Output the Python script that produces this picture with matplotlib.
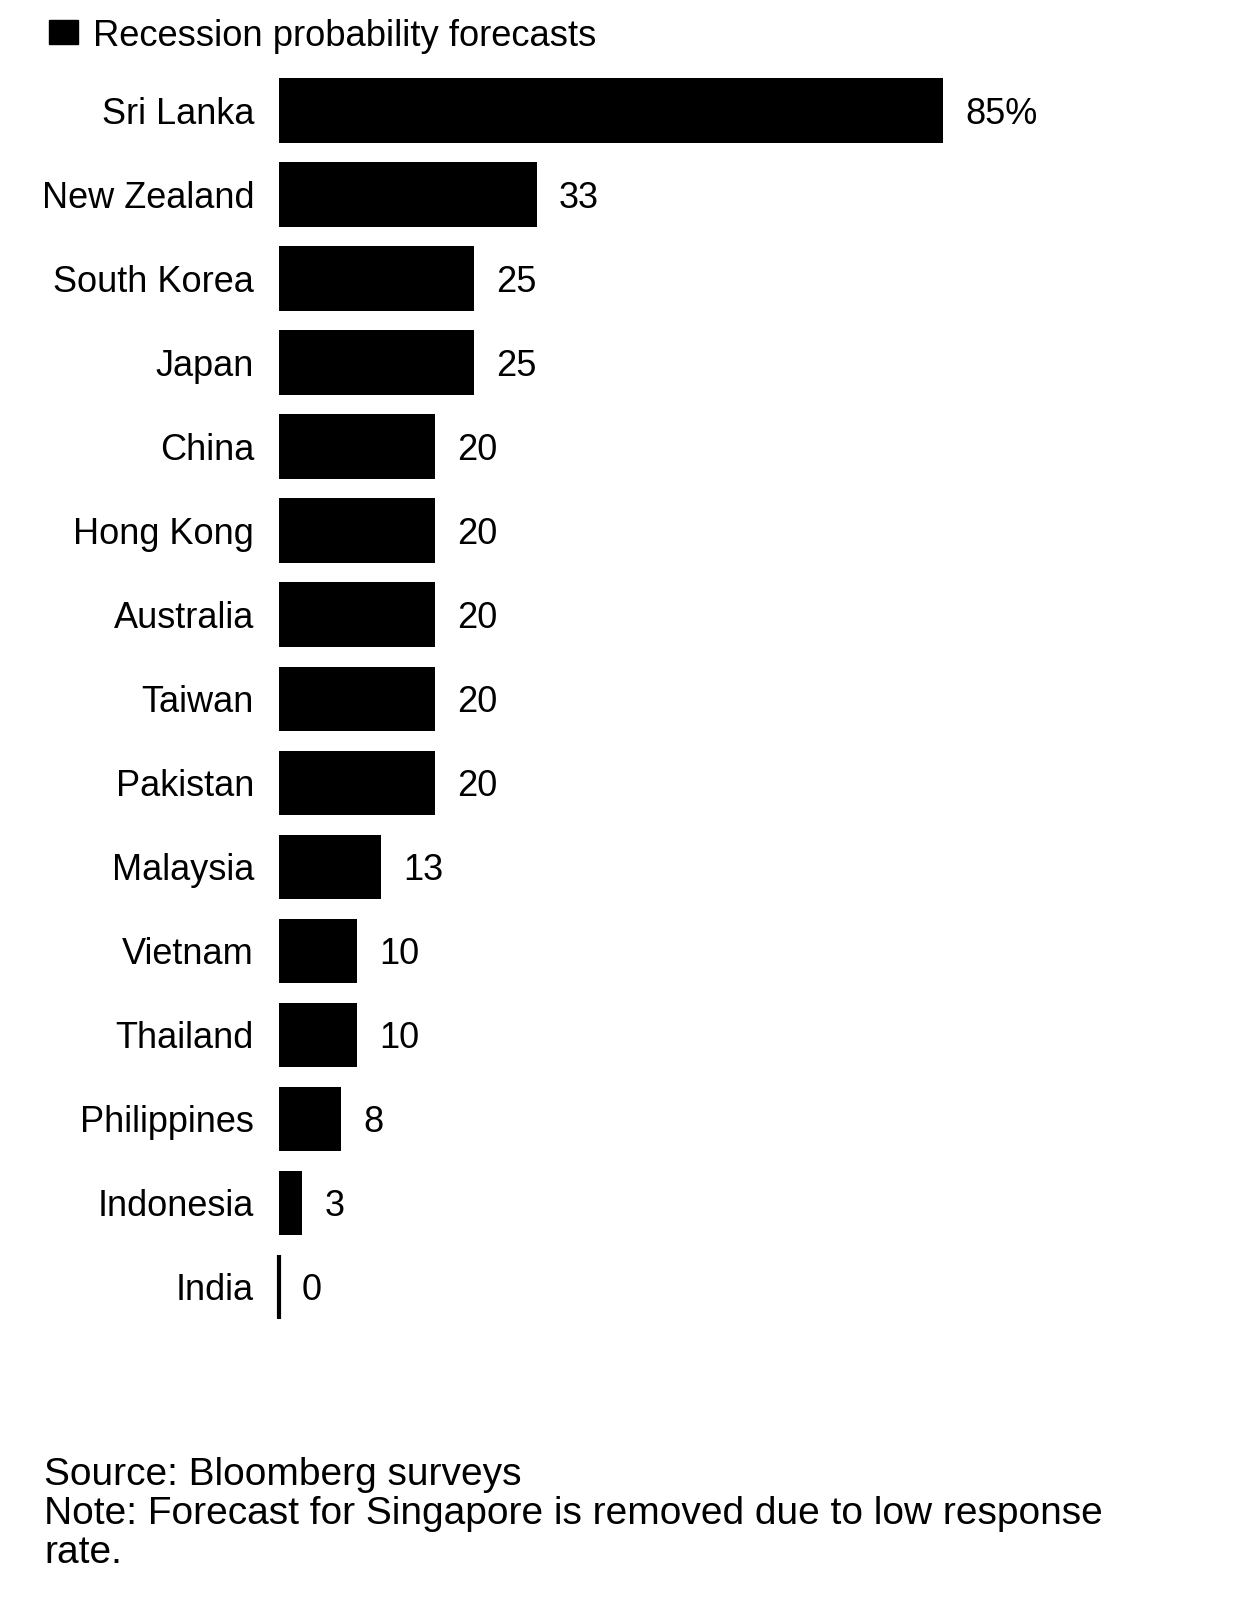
import matplotlib
matplotlib.use("Agg")
import matplotlib.pyplot as plt
from matplotlib.patches import Rectangle

plt.rcParams['font.family'] = ['Liberation Sans', 'DejaVu Sans']

countries = ["Sri Lanka", "New Zealand", "South Korea", "Japan", "China", "Hong Kong",
             "Australia", "Taiwan", "Pakistan", "Malaysia", "Vietnam", "Thailand",
             "Philippines", "Indonesia", "India"]
values = [85, 33, 25, 25, 20, 20, 20, 20, 20, 13, 10, 10, 8, 3, 0]
value_labels = ["85%", "33", "25", "25", "20", "20", "20", "20", "20", "13", "10", "10", "8", "3", "0"]
legend_label = "Recession probability forecasts"
source_lines = ["Source: Bloomberg surveys",
                "Note: Forecast for Singapore is removed due to low response",
                "rate."]

W, H = 1236, 1600
fig = plt.figure(figsize=(W / 100, H / 100), dpi=100)
fig.patch.set_facecolor("white")

left = 279 / W
width = (943 - 279) / 85 * 100 / W
top = 1 - 68.7 / H
bottom = 1 - 1329 / H
ax = fig.add_axes([left, bottom, width, top - bottom])

ypos = list(range(len(countries)))
bars = ax.barh(ypos, values, height=0.77, color="black", edgecolor="black", linewidth=0)
# zero-value bar drawn as thin line
for b, v in zip(bars, values):
    if v == 0:
        b.set_linewidth(3.0)
        b.set_clip_on(False)

ax.set_xlim(0, 100)
ax.set_ylim(len(countries) - 0.5, -0.5)
ax.set_yticks(ypos)
ax.set_yticklabels(countries, fontsize=26)
ax.tick_params(axis="y", length=0, pad=18)
ax.set_xticks([])
for s in ax.spines.values():
    s.set_visible(False)

for y, v, lab in zip(ypos, values, value_labels):
    ax.annotate(lab, xy=(v, y), xytext=(16, 0), textcoords="offset points",
                va="center_baseline", ha="left", fontsize=26)

fig.add_artist(Rectangle((49 / W, 1 - 44 / H), 29 / W, 24 / H,
                         transform=fig.transFigure, color="black"))
fig.text(93 / W, 1 - 32 / H, legend_label, fontsize=26.2, va="center_baseline", ha="left")

baselines = [1485, 1524, 1563]
for line, bl in zip(source_lines, baselines):
    fig.text(44 / W, 1 - bl / H, line, fontsize=28, va="baseline", ha="left")

fig.savefig("out.png", dpi=100, facecolor="white")
